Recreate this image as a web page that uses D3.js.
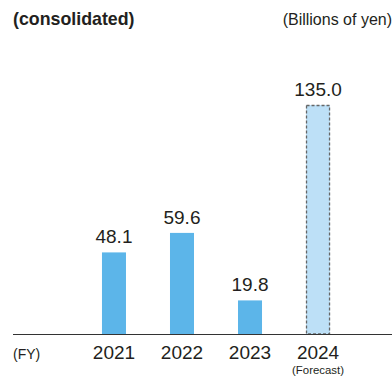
<!DOCTYPE html>
<html>
<head>
<meta charset="utf-8">
<script src="https://cdn.jsdelivr.net/npm/d3@7"></script>
<style>
  html, body { margin: 0; padding: 0; background: #fff; }
  svg { display: block; font-family: "Liberation Sans", Arial, Helvetica, sans-serif; }
</style>
</head>
<body>
<svg id="chart" width="392" height="377"></svg>
<script>
// Fiscal years, values (billions of yen) and which year is a forecast
const years = ["2021", "2022", "2023", "2024"];
const values = [48.1, 59.6, 19.8, 135.0];
const forecast = [false, false, false, true];
const valueLabels = ["48.1", "59.6", "19.8", "135.0"];

const W = 392, H = 377;
const baseY = 334;
const textColor = "#231f20";

const svg = d3.select("#chart");

const x = d3.scaleBand()
  .domain(years)
  .range([80, 352])
  .paddingInner(0.647)
  .paddingOuter(0.323);

const y = d3.scaleLinear()
  .domain([0, 135])
  .range([baseY, 105]);

// Bars
const data = years.map((yr, i) => ({ yr, v: values[i], f: forecast[i], lbl: valueLabels[i] }));

svg.selectAll("rect.bar")
  .data(data)
  .join("rect")
  .attr("class", "bar")
  .attr("x", d => x(d.yr))
  .attr("y", d => y(d.v))
  .attr("width", x.bandwidth())
  .attr("height", d => baseY - y(d.v))
  .attr("fill", d => d.f ? "#bde0f7" : "#5cb5e9");

// Dashed outline around the forecast bar
svg.selectAll("rect.outline")
  .data(data.filter(d => d.f))
  .join("rect")
  .attr("class", "outline")
  .attr("x", d => x(d.yr) + 0.5)
  .attr("y", d => y(d.v) + 0.5)
  .attr("width", x.bandwidth() - 1)
  .attr("height", d => baseY - y(d.v) - 0.5)
  .attr("fill", "none")
  .attr("stroke", "#666")
  .attr("stroke-width", 1.3)
  .attr("stroke-dasharray", "3,2");

// Value labels above bars
svg.selectAll("text.val")
  .data(data)
  .join("text")
  .attr("class", "val")
  .attr("x", d => x(d.yr) + x.bandwidth() / 2)
  .attr("y", d => y(d.v) - 9)
  .attr("text-anchor", "middle")
  .attr("font-size", 19)
  .attr("fill", textColor)
  .text(d => d.lbl);

// Baseline
svg.append("line")
  .attr("x1", 13).attr("x2", W)
  .attr("y1", baseY + 0.5).attr("y2", baseY + 0.5)
  .attr("stroke", "#333")
  .attr("stroke-width", 1.2);

// Year axis
const axis = d3.axisBottom(x).tickSize(0).tickPadding(0);
const axisG = svg.append("g")
  .attr("transform", `translate(0,${baseY})`)
  .call(axis);
axisG.select(".domain").remove();
axisG.selectAll("text")
  .attr("y", 25)
  .attr("dy", null)
  .attr("font-size", 19)
  .attr("font-family", "\"Liberation Sans\", Arial, Helvetica, sans-serif")
  .attr("fill", textColor);

// Forecast note under the forecast year
svg.selectAll("text.note")
  .data(data.filter(d => d.f))
  .join("text")
  .attr("class", "note")
  .attr("x", d => x(d.yr) + x.bandwidth() / 2)
  .attr("y", 374)
  .attr("text-anchor", "middle")
  .attr("font-size", 11.4)
  .attr("fill", textColor)
  .text("(Forecast)");

// Axis caption
svg.append("text")
  .attr("x", 13).attr("y", 359)
  .attr("font-size", 14)
  .attr("fill", textColor)
  .text("(FY)");

// Header texts
svg.append("text")
  .attr("x", 13).attr("y", 25)
  .attr("font-size", 17.8)
  .attr("font-weight", "bold")
  .attr("fill", textColor)
  .text("(consolidated)");

svg.append("text")
  .attr("x", 392).attr("y", 25)
  .attr("text-anchor", "end")
  .attr("font-size", 16)
  .attr("fill", textColor)
  .text("(Billions of yen)");
</script>
</body>
</html>
